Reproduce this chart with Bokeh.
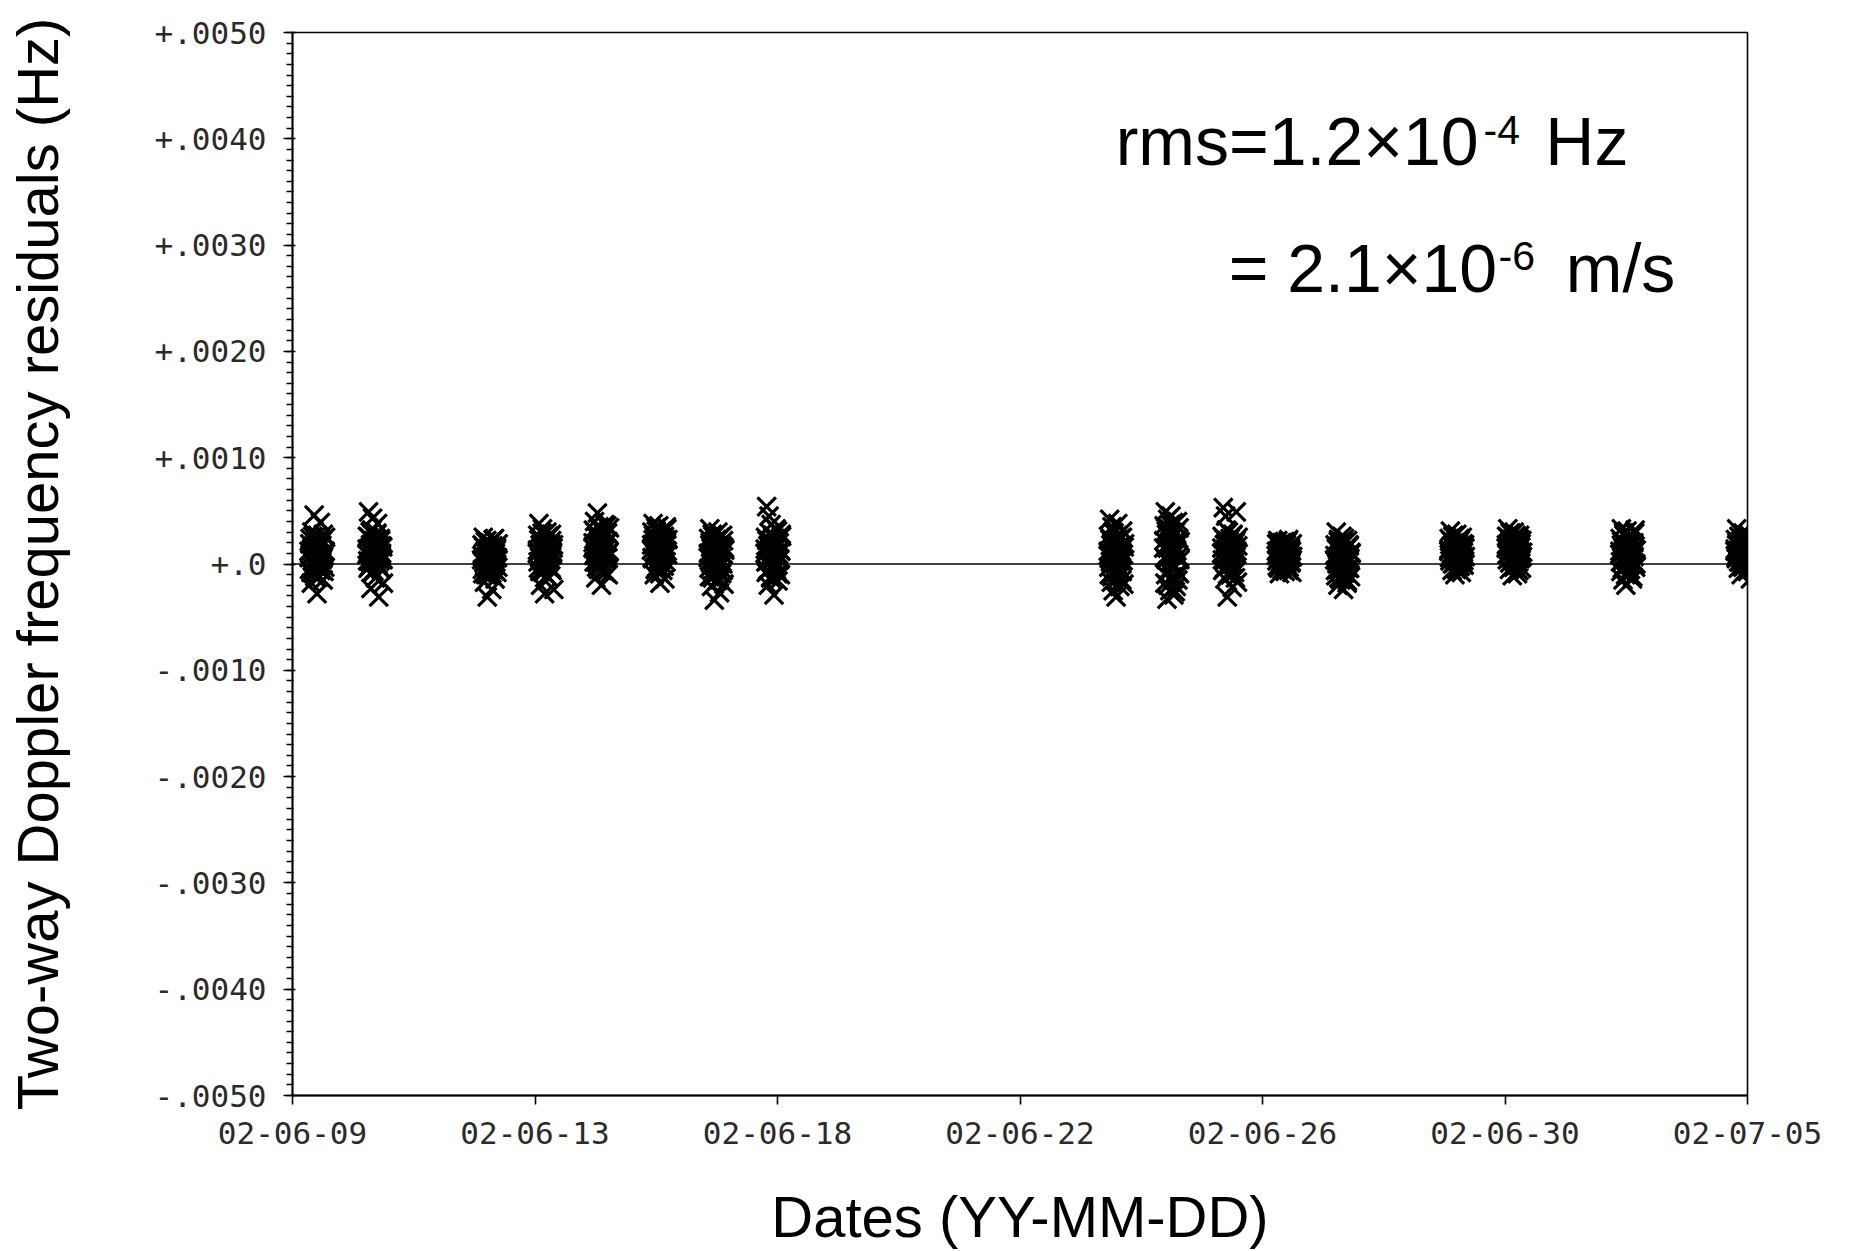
from bokeh.plotting import figure
from bokeh.models import FixedTicker, Span, Label, ColumnDataSource, Range1d
from bokeh.embed import file_html
from bokeh.resources import INLINE

# ---------------- data ----------------
# x axis: time in days of June 2002 (UTC); 31 = July 1, 35 = July 5
x_tick_days = [9.5, 13.77, 18.04, 22.31, 26.58, 30.85, 35.12]
x_tick_labels = ["02-06-09", "02-06-13", "02-06-18", "02-06-22",
                 "02-06-26", "02-06-30", "02-07-05"]

y_ticks = [-0.005, -0.004, -0.003, -0.002, -0.001, 0.0,
           0.001, 0.002, 0.003, 0.004, 0.005]
y_tick_labels = ["-.0050", "-.0040", "-.0030", "-.0020", "-.0010", "+.0",
                 "+.0010", "+.0020", "+.0030", "+.0040", "+.0050"]

# centre of each tracking pass (day of June 2002)
pass_centre_day = [9.94, 10.96, 12.98, 13.96, 14.94, 15.97, 16.97, 17.97,
                   24.01, 24.99, 26.01, 26.97, 28.00, 30.01, 31.02, 33.02, 35.05]

# Doppler sample times inside a pass (hours from pass centre)
sample_hours = [-3.6, -3.4, -3.1, -2.9, -2.6, -2.4, -2.2, -1.9, -1.7, -1.4,
                -1.2, -1.0, -0.7, -0.5, -0.2, 0.0, 0.2, 0.5, 0.7, 0.9,
                1.2, 1.4, 1.7, 1.9, 2.1, 2.4, 2.6, 2.9, 3.1, 3.4,
                -3.5, -3.25, -2.75, -2.5, -2.05, -1.8, -1.55, -1.1, -0.85, -0.35,
                -0.1, 0.35, 0.6, 1.05, 1.3, 1.8, 2.25, 2.5, 2.75, 3.25]

# two-way Doppler residuals of each pass, units of 1e-4 Hz
res_0610 = [1.2, -0.5, 2.4, 0.8, -1.8, 3.0, 0.3, 1.6, -0.9, 4.6, 0.5, 2.1, -0.2, 1.0, -2.8,
            2.7, 0.1, 1.4, -1.2, 0.9, 3.9, -0.6, 1.8, 0.4, 2.2, -1.5, 0.7, 1.1, -0.3, 2.5,
            0.6, 1.9, -0.8, 1.3, 2.6, 0.2, 1.0, -1.2, 2.0, 0.4, 1.6, -0.4, 2.3, 0.9, -0.1,
            1.7, 0.5, 2.8, -0.7, 1.2]
res_0611 = [0.9, 2.6, -0.4, 4.9, 1.5, 0.2, 3.0, -2.3, 1.1, 0.6, 4.3, 1.9, -0.7, 2.2, 0.4,
            -1.3, 1.3, 2.8, 0.0, 3.8, 0.8, -3.1, 1.7, 0.3, 2.4, -0.5, 1.0, 0.5, 1.6, -1.8,
            1.4, 0.3, 2.5, -0.2, 1.8, 0.7, 3.2, 1.0, -0.6, 2.1, 0.5, 1.5, 2.9, 0.0, 1.2,
            -0.3, 2.2, 0.8, 1.7, 0.4]
res_0613 = [0.4, 1.8, -0.9, 2.5, 0.1, -1.7, 1.2, 0.7, -0.3, 2.2, -3.1, 0.9, 1.5, -1.1, 0.3,
            2.0, -0.6, 1.0, -2.4, 0.5, 1.7, -0.2, 0.8, 2.4, -1.4, 0.2, 1.3, -0.8, 0.6, 1.9,
            0.8, -0.5, 1.6, 0.2, 2.1, -1.0, 1.1, 0.5, -0.2, 1.8, 0.9, -0.9, 1.4, 0.0, 2.3,
            -0.6, 1.0, 0.6, 1.5, -0.3]
res_0614 = [1.0, 2.7, -0.4, 3.8, 0.6, 1.8, -2.0, 2.2, 0.3, 3.3, -0.8, 1.4, 0.9, -2.8, 2.0,
            0.1, 1.6, 3.0, -0.2, 1.2, 2.5, -1.3, 0.7, 1.9, 0.4, 2.8, -0.6, 1.1, 1.5, -2.4,
            1.3, 0.2, 2.3, -0.7, 1.7, 0.8, 2.9, -0.1, 1.0, 2.0, 0.5, -1.1, 1.6, 2.6, 0.3,
            1.2, -0.4, 2.2, 0.9, 1.8]
res_0615 = [1.5, 3.2, 0.2, 4.0, 1.0, -1.3, 2.6, 0.7, 4.8, 1.9, -0.5, 3.5, 1.2, 0.4, 2.2,
            -2.0, 1.7, 3.0, 0.0, 2.4, 0.9, 3.7, -0.8, 1.4, 2.0, 0.6, 2.9, -1.0, 1.1, 3.4,
            2.0, 0.8, 3.0, 1.3, -0.3, 2.5, 1.6, 0.3, 3.3, 1.0, 2.2, -0.6, 1.8, 2.8, 0.5,
            1.4, 3.6, 0.9, 2.1, 1.2]
res_0616 = [1.3, 3.0, 0.5, 3.8, 1.9, -1.0, 2.5, 0.8, 3.4, -0.3, 1.6, 2.2, 0.1, 3.6, 1.0,
            -1.8, 2.8, 0.4, 1.4, 3.1, -0.6, 2.0, 0.9, 2.6, -1.4, 1.7, 0.2, 3.3, 1.2, 2.3,
            1.8, 0.6, 2.7, 1.1, -0.5, 2.1, 3.1, 0.3, 1.5, 2.4, -0.9, 1.0, 2.9, 0.7, 1.9,
            -0.2, 2.3, 1.3, 3.5, 0.9]
res_0617 = [0.6, 2.4, -1.2, 3.3, 0.1, 1.5, -2.1, 2.8, 0.9, -0.5, 1.9, -3.4, 1.2, 0.3, 2.1,
            -1.6, 0.7, 3.0, -0.2, 1.4, -2.7, 2.5, 0.5, 1.0, -0.9, 1.7, 0.0, 2.2, -1.9, 1.3,
            1.0, -0.4, 2.0, 0.4, 1.6, -1.3, 2.6, 0.8, -0.1, 1.3, 2.3, -0.8, 0.6, 1.8, -1.5,
            1.1, 0.2, 2.7, -0.6, 1.5]
res_0618 = [1.0, 2.5, -0.8, 5.4, 0.3, 1.7, -2.0, 4.5, 0.6, 2.2, -1.3, 3.7, 1.3, -0.2, 2.7,
            0.8, -2.9, 1.9, 0.1, 2.4, -0.5, 1.5, 3.1, -1.6, 0.9, 2.0, 0.4, -1.0, 1.2, 2.6,
            1.4, 0.2, 2.2, -0.6, 1.8, 0.7, 2.9, -1.2, 1.1, 2.5, 0.4, -0.3, 1.6, 3.3, 0.9,
            -0.9, 2.0, 0.5, 1.3, 2.8]
res_0624 = [0.8, 2.6, -1.0, 4.2, 0.2, 1.8, -1.7, 3.5, 0.5, -2.5, 1.4, 2.9, -0.4, 1.1, -3.1,
            2.2, 0.0, 3.8, -1.3, 1.6, 0.7, -2.1, 2.4, 0.3, 1.2, -0.7, 3.1, 0.9, -1.9, 1.9,
            1.2, -0.3, 2.3, 0.6, -1.2, 1.7, 3.0, 0.1, 1.0, -0.8, 2.0, 0.4, 2.7, -0.5, 1.4,
            0.8, -1.5, 2.5, 0.3, 1.6]
res_0625 = [1.5, 3.6, -1.8, 4.9, 0.4, 2.8, -3.3, 4.2, -0.6, 2.0, 3.3, -2.5, 1.0, 4.5, -1.2,
            2.5, 0.0, 3.9, -2.9, 1.8, -0.3, 3.0, -2.1, 1.2, 2.3, -1.5, 0.7, 3.4, -0.9, 2.1,
            2.2, 0.6, -1.0, 3.1, 1.5, -2.0, 2.6, 0.2, 3.7, -0.4, 1.9, -1.4, 2.9, 0.9, -2.6,
            1.3, 4.0, -0.8, 2.4, 0.4]
res_0626 = [1.0, 2.6, -0.6, 5.3, 0.3, 1.8, -1.4, 4.5, 0.7, 2.2, -3.1, 1.4, 3.0, -0.2, 1.1,
            2.4, -1.0, 0.5, 1.9, -2.2, 2.8, 0.1, 1.6, -0.8, 2.0, 0.9, 4.9, 1.2, -1.7, 2.5,
            1.5, 0.4, 2.4, -0.4, 1.9, 0.8, 3.2, -1.0, 1.2, 2.1, 0.0, 1.6, -0.6, 2.7, 0.6,
            1.3, -1.3, 2.2, 0.9, 1.7]
res_0627 = [0.8, 1.9, -0.2, 2.2, 0.5, 1.3, -0.9, 1.7, 0.2, 2.0, 0.9, -0.5, 1.5, 0.3, 1.1,
            2.1, -0.7, 0.6, 1.8, 0.0, 1.4, 0.4, 2.3, -0.3, 1.0, 1.6, 0.1, 1.2, -0.8, 0.7,
            1.2, 0.3, 1.8, -0.4, 0.9, 1.5, 0.0, 2.0, 0.6, 1.3, -0.1, 1.7, 0.4, 1.0, 2.1,
            -0.6, 0.8, 1.4, 0.2, 1.9]
res_0628 = [0.4, 1.8, -1.1, 3.0, 0.0, 1.3, -2.0, 2.3, -0.5, 0.9, 1.6, -1.5, 0.6, 2.6, -0.2,
            1.1, -2.4, 2.0, 0.2, -0.8, 1.4, 0.8, -1.8, 2.2, 0.3, -0.4, 1.7, 0.5, -1.2, 1.0,
            0.8, -0.6, 1.6, 0.2, 2.1, -1.3, 1.2, 0.5, -0.2, 1.9, -0.9, 0.9, 2.4, 0.1, 1.4,
            -1.6, 0.7, 1.8, -0.4, 1.1]
res_0630 = [1.2, 2.4, 0.3, 3.1, 0.8, 1.7, -0.6, 2.6, 1.0, 0.1, 2.0, -1.0, 1.5, 0.5, 2.8,
            0.9, -0.3, 1.9, 1.3, 0.2, 2.2, 0.6, -0.8, 1.6, 2.5, 0.4, 1.1, -0.1, 1.8, 0.7,
            1.4, 0.6, 2.2, 1.0, 0.0, 1.8, 2.7, 0.4, 1.2, -0.5, 2.0, 0.8, 1.6, 2.4, -0.2,
            1.1, 0.7, 1.9, 0.3, 1.5]
res_0701 = [1.5, 2.6, 0.4, 3.3, 1.0, 2.0, -0.5, 2.9, 1.2, 0.6, 2.3, -1.1, 1.7, 0.8, 3.0,
            1.4, -0.2, 2.1, 0.9, 1.8, -0.9, 2.5, 0.2, 1.3, 2.7, 0.5, 1.6, -0.4, 2.2, 1.1,
            1.8, 0.9, 2.5, 1.3, 0.1, 2.2, 2.9, 0.6, 1.5, -0.3, 2.0, 1.1, 2.7, 0.4, 1.7,
            -0.6, 2.3, 1.0, 1.9, 0.7]
res_0703 = [0.9, 2.4, -0.7, 3.3, 0.3, 1.6, -1.5, 2.9, 0.6, -0.2, 1.9, -2.0, 1.2, 3.1, 0.0,
            1.4, -1.0, 2.2, 0.8, -0.5, 2.6, 0.4, 1.7, -1.2, 1.0, 2.0, 0.1, 3.2, -0.3, 1.3,
            1.2, 0.2, 2.1, -0.4, 1.5, 2.7, 0.6, -1.0, 1.8, 0.9, 2.4, -0.6, 1.1, 0.3, 2.0,
            -1.4, 1.4, 0.7, 2.9, 0.0]
res_0705 = [1.2, 2.3, 0.5, 3.3, 0.9, 1.7, -0.4, 2.6, 1.4, 0.2, 2.0, -1.0, 1.5, 0.7, 2.9,
            1.1, -0.2, 1.8, 0.8, 2.4, 0.3, 1.3, -0.7, 2.1, 1.0, 0.6, 1.6, -1.4, 2.2, 0.9,
            1.4, 0.7, 2.0, 1.1, 0.2, 1.7, 2.5, 0.5, 1.3, -0.3, 1.9, 0.9, 2.2, 0.4, 1.5,
            -0.6, 1.0, 2.7, 0.8, 1.6]

pass_residuals = [res_0610, res_0611, res_0613, res_0614, res_0615, res_0616, res_0617,
                  res_0618, res_0624, res_0625, res_0626, res_0627, res_0628, res_0630,
                  res_0701, res_0703, res_0705]

# build the point table
xs, ys = [], []
for centre, res in zip(pass_centre_day, pass_residuals):
    for h, r in zip(sample_hours, res):
        xs.append(centre + h / 24.0)
        ys.append(r * 1e-4)
src = ColumnDataSource(dict(t=xs, resid=ys))

# ---------------- figure ----------------
W, H = 1857, 1251
p = figure(width=W, height=H, output_backend="svg", toolbar_location=None,
           x_range=Range1d(x_tick_days[0], x_tick_days[-1]),
           y_range=Range1d(y_ticks[0], y_ticks[-1]),
           min_border_left=292, min_border_right=110,
           min_border_top=32, min_border_bottom=156)
p.background_fill_color = "white"
p.border_fill_color = "white"
p.outline_line_color = "black"
p.outline_line_width = 1.6
p.xgrid.visible = False
p.ygrid.visible = False

p.scatter("t", "resid", source=src, marker="x", size=26,
          line_color="black", line_width=3.2)

p.add_layout(Span(location=0, dimension="width", line_color="black", line_width=1.5))

tick_font = "DejaVu Sans Mono"
label_font = "Liberation Sans"

# x axis
xa = p.xaxis[0]
xa.ticker = FixedTicker(ticks=x_tick_days, minor_ticks=[])
xa.major_label_overrides = dict(zip(x_tick_days, x_tick_labels))
xa.axis_label = "Dates (YY-MM-DD)"
xa.axis_label_text_font = label_font
xa.axis_label_text_font_style = "normal"
xa.axis_label_text_font_size = "58px"
xa.axis_label_text_color = "black"
xa.axis_label_standoff = 37
xa.major_label_text_font = tick_font
xa.major_label_text_font_size = "31px"
xa.major_label_text_color = "#2a2a2a"
xa.major_label_standoff = 17
xa.major_tick_out = 9
xa.major_tick_in = 0
xa.minor_tick_out = 0
xa.minor_tick_in = 0
xa.axis_line_color = "black"
xa.axis_line_width = 1.8
xa.major_tick_line_width = 1.6

# y axis
ya = p.yaxis[0]
ya.ticker = FixedTicker(ticks=y_ticks,
                        minor_ticks=[round(i * 1e-4, 4) for i in range(-50, 51)])
ya.major_label_overrides = dict(zip(y_ticks, y_tick_labels))
ya.axis_label = "Two-way Doppler frequency residuals (Hz)"
ya.axis_label_text_font = label_font
ya.axis_label_text_font_style = "normal"
ya.axis_label_text_font_size = "58px"
ya.axis_label_text_color = "black"
ya.axis_label_standoff = 82
ya.major_label_text_font = tick_font
ya.major_label_text_font_size = "31px"
ya.major_label_text_color = "#2a2a2a"
ya.major_label_standoff = 17
ya.major_tick_out = 9
ya.major_tick_in = 3
ya.minor_tick_out = 6
ya.minor_tick_in = 1
ya.axis_line_color = "black"
ya.axis_line_width = 1.8
ya.major_tick_line_width = 1.6
ya.minor_tick_line_width = 1.4

# annotation (rms of the residuals)
def note(x, y, text, size):
    p.add_layout(Label(x=x, y=y, text=text, text_font=label_font,
                       text_font_size=size, text_color="black",
                       text_align="left", text_baseline="alphabetic"))

note(23.995, 0.003977, "rms=1.2\u00d710", "68px")
note(30.473, 0.004086, "-4", "41px")
note(31.56, 0.003977, "Hz", "68px")
note(25.984, 0.002786, "= 2.1\u00d710", "68px")
note(30.737, 0.002895, "-6", "41px")
note(31.92, 0.002786, "m/s", "68px")

open("out.html", "w").write(file_html(p, INLINE))
